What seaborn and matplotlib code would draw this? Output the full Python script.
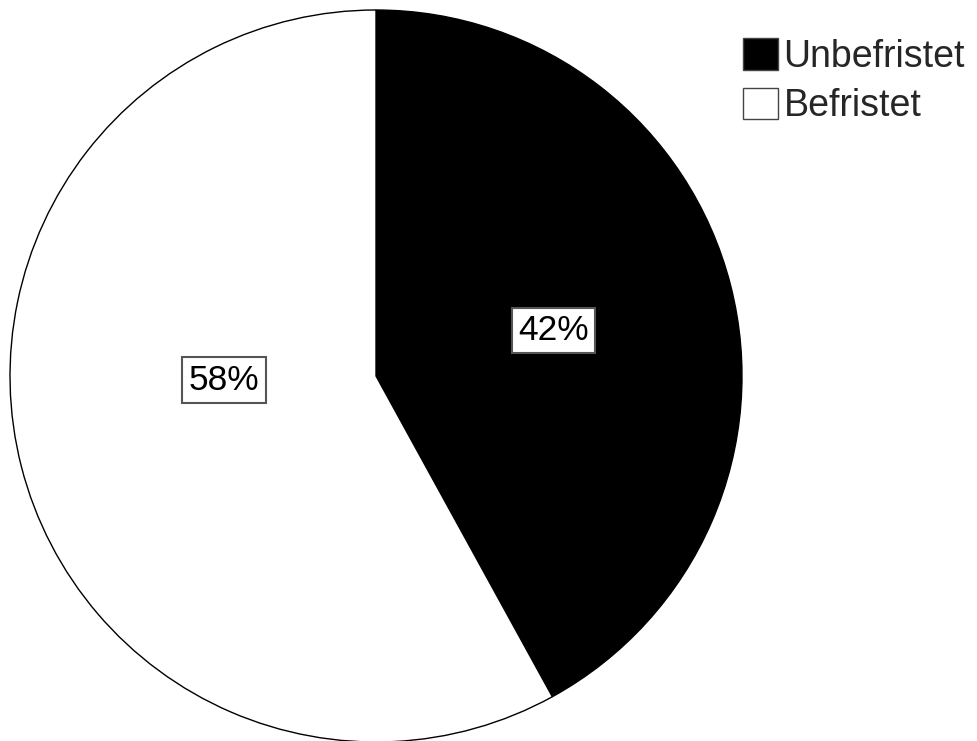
import matplotlib
matplotlib.use('Agg')
import matplotlib.pyplot as plt
import seaborn as sns
from matplotlib.patches import Patch

# data
categories = ['Unbefristet', 'Befristet']
shares = [42, 58]
colors = ['black', 'white']

sns.set_theme(style='white')
plt.rcParams['font.family'] = ['Liberation Sans', 'DejaVu Sans']

fig = plt.figure(figsize=(9.77, 7.41), dpi=100)
# pie centre ~ (376, 376) px, radius ~366 px
ax = fig.add_axes([10/977, -1/741, 732/977, 732/741])

wedges, texts, pcts = ax.pie(shares, colors=colors, startangle=90, counterclock=False,
                             autopct='%1.0f%%', pctdistance=0.5,
                             wedgeprops=dict(edgecolor='black', linewidth=1),
                             textprops=dict(fontsize=25.5, color='black'))
for t in pcts:
    t.set_bbox(dict(boxstyle='square,pad=0.18', fc='white', ec='#555555', lw=1.5))
# SPSS puts the big slice label nearer the left side
pcts[1].set_position((-0.415, -0.011))

ax.set_xlim(-1, 1)
ax.set_ylim(-1, 1)
ax.set_aspect('equal')
ax.axis('off')

handles = [Patch(facecolor=c, edgecolor='#444444', linewidth=1) for c in colors]
fig.legend(handles, categories, loc='upper left', bbox_to_anchor=(743/977, 1 - 38/741),
           frameon=False, fontsize=27, handlelength=0.93, handleheight=0.93,
           handletextpad=0.15, labelspacing=0.34, borderpad=0, borderaxespad=0)

plt.savefig('out.png', dpi=100)
